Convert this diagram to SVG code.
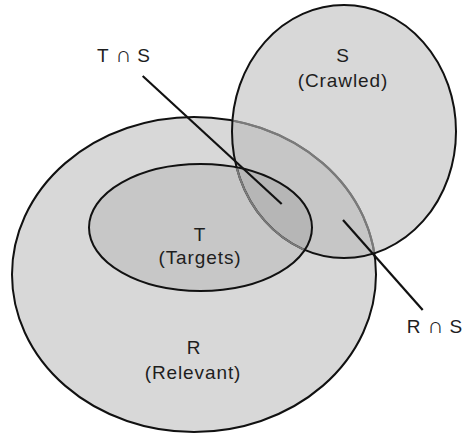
<svg xmlns="http://www.w3.org/2000/svg" width="464" height="434" viewBox="0 0 464 434">
<style>
.lbl{font-family:"Liberation Sans",Arial,sans-serif;font-size:19px;letter-spacing:0.9px;fill:#1e1e1e;text-anchor:middle}
.cap{font-family:"DejaVu Sans",sans-serif;font-size:22px;font-weight:300;letter-spacing:0}
.edge{fill:none;stroke:#111;stroke-width:2.2}
.out{fill:none;stroke:#111;stroke-width:2}
.dim{fill:none;stroke:#7a7a7a;stroke-width:2}
</style>
<defs>
<clipPath id="clipS"><ellipse cx="344" cy="131.5" rx="112" ry="126.5"/></clipPath>
<clipPath id="clipT"><ellipse cx="200.5" cy="227.5" rx="111.5" ry="63.5"/></clipPath>
</defs>
<rect width="464" height="434" fill="#fff"/>
<g id="R">
<ellipse cx="194" cy="274.5" rx="182" ry="157.5" class="out" style="fill:#d8d8d8"/>
</g>
<g id="S">
<ellipse cx="344" cy="131.5" rx="112" ry="126.5" fill="#b7b7b7" fill-opacity="0.54"/>
<ellipse cx="194" cy="274.5" rx="182" ry="157.5" class="dim" clip-path="url(#clipS)"/>
<ellipse cx="344" cy="131.5" rx="112" ry="126.5" class="out"/>
</g>
<g id="T">
<ellipse cx="200.5" cy="227.5" rx="111.5" ry="63.5" fill="#000" fill-opacity="0.08"/>
<ellipse cx="344" cy="131.5" rx="112" ry="126.5" class="dim" clip-path="url(#clipT)"/>
<ellipse cx="200.5" cy="227.5" rx="111.5" ry="63.5" class="out"/>
</g>
<g id="connectors">
<line x1="142.7" y1="76" x2="281.7" y2="204" class="edge"/>
<line x1="343" y1="220" x2="422.7" y2="310" class="edge"/>
</g>
<g id="labels">
<text class="lbl" x="343" y="62">S</text>
<text class="lbl" x="343" y="87">(Crawled)</text>
<text class="lbl" x="200" y="241">T</text>
<text class="lbl" x="200" y="264">(Targets)</text>
<text class="lbl" x="194" y="354">R</text>
<text class="lbl" x="193" y="379">(Relevant)</text>
<text class="lbl" x="124" y="62">T <tspan class="cap">∩</tspan> S</text>
<text class="lbl" x="435" y="333">R <tspan class="cap">∩</tspan> S</text>
</g>
</svg>
